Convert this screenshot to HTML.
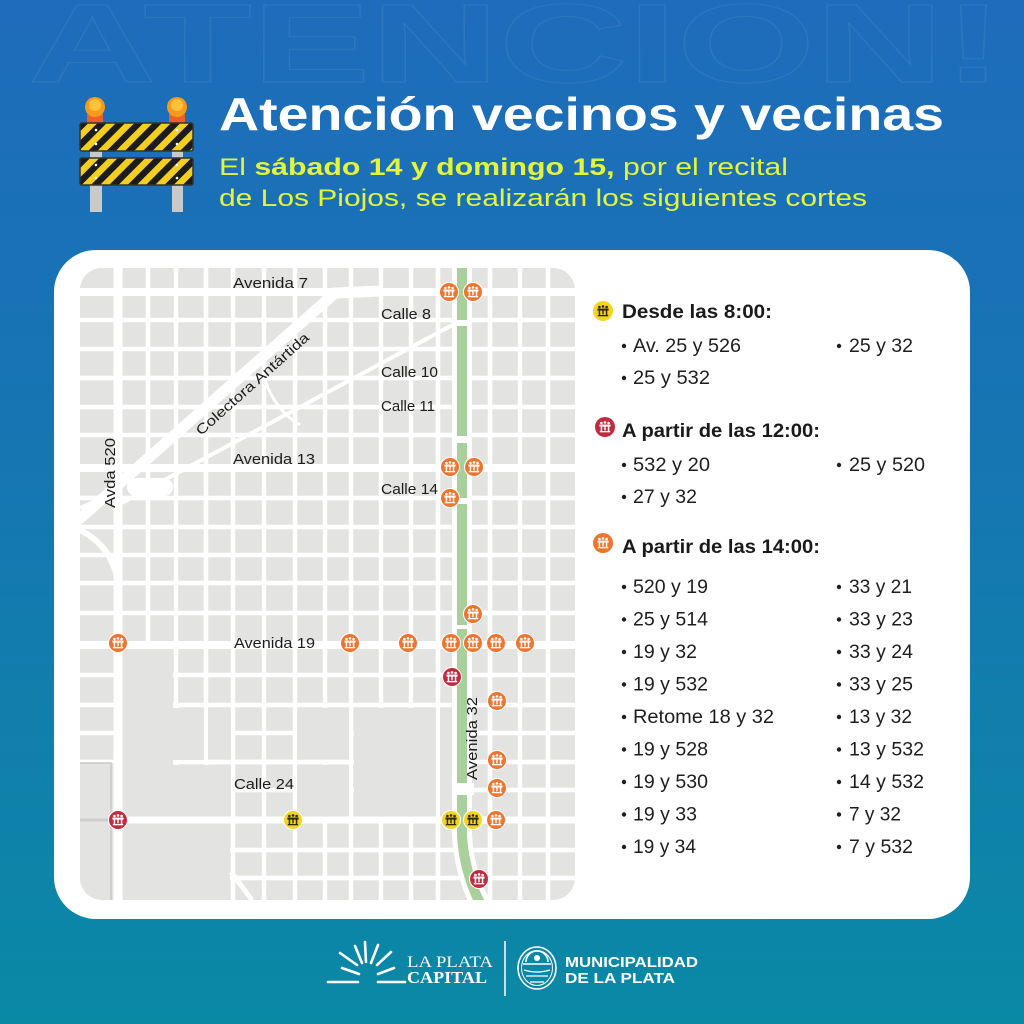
<!DOCTYPE html>
<html><head><meta charset="utf-8"><style>html,body{margin:0;padding:0;background:#1a74b4}svg{display:block}</style></head><body>
<svg width="1024" height="1024" viewBox="0 0 1024 1024" xmlns="http://www.w3.org/2000/svg" font-family="'Liberation Sans', sans-serif">
<defs>
<linearGradient id="bg" x1="0" y1="0" x2="0" y2="1">
<stop offset="0" stop-color="#1e6cbb"/><stop offset="0.45" stop-color="#1676b2"/><stop offset="1" stop-color="#0a89a5"/>
</linearGradient>
<pattern id="stripe" patternUnits="userSpaceOnUse" width="13" height="13" patternTransform="rotate(45)">
<rect width="13" height="13" fill="#f3d020"/><rect width="6.5" height="13" fill="#1c1c1c"/>
</pattern>
<clipPath id="mapclip"><rect x="80" y="268" width="495" height="632" rx="22"/></clipPath>
<g id="ico">
<circle cx="-3.6" cy="-4" r="1.3"/><circle cx="0" cy="-4.6" r="1.3"/><circle cx="3.6" cy="-4" r="1.3"/>
<rect x="-5.6" y="-2.4" width="11.2" height="2"/>
<rect x="-4.3" y="-0.6" width="1.5" height="5"/><rect x="-0.7" y="-0.6" width="1.4" height="4"/><rect x="2.8" y="-0.6" width="1.5" height="5"/>
<rect x="-5.2" y="4" width="10.4" height="1.3"/>
</g>
</defs>
<rect width="1024" height="1024" fill="url(#bg)"/>
<text x="28" y="82" font-size="112" font-weight="bold" fill="none" stroke="rgba(255,255,255,0.07)" stroke-width="1" textLength="975" lengthAdjust="spacingAndGlyphs">ATENCION!</text>

<!-- barrier -->
<g>
<rect x="90" y="148" width="12" height="64" fill="#c9c9c9"/>
<rect x="172" y="148" width="11" height="64" fill="#c9c9c9"/>
<rect x="87" y="114" width="16" height="10" fill="#ef5f2a"/>
<rect x="169" y="114" width="16" height="10" fill="#ef5f2a"/>
<circle cx="95" cy="107" r="10" fill="#f59a1c"/><circle cx="95" cy="105" r="6" fill="#ffc23a"/>
<circle cx="177" cy="107" r="10" fill="#f59a1c"/><circle cx="177" cy="105" r="6" fill="#ffc23a"/>
<rect x="80" y="123" width="113" height="28" rx="2" fill="url(#stripe)" stroke="#333" stroke-width="1.5"/>
<rect x="80" y="158" width="113" height="27" rx="2" fill="url(#stripe)" stroke="#333" stroke-width="1.5"/>
<g fill="#fff"><circle cx="96" cy="130" r="1.3"/><circle cx="96" cy="144" r="1.3"/><circle cx="177" cy="130" r="1.3"/><circle cx="177" cy="144" r="1.3"/><circle cx="96" cy="165" r="1.3"/><circle cx="96" cy="178" r="1.3"/><circle cx="177" cy="165" r="1.3"/><circle cx="177" cy="178" r="1.3"/></g>
</g>

<text x="219" y="130" font-size="46" font-weight="bold" fill="#fff" textLength="725" lengthAdjust="spacingAndGlyphs">Atención vecinos y vecinas</text>
<text x="219" y="175" font-size="24" fill="#e3f43a" textLength="569" lengthAdjust="spacingAndGlyphs">El <tspan font-weight="bold">sábado 14 y domingo 15,</tspan> por el recital</text>
<text x="219" y="206" font-size="24" fill="#e3f43a" textLength="648" lengthAdjust="spacingAndGlyphs">de Los Piojos, se realizarán los siguientes cortes</text>

<!-- card -->
<rect x="54" y="250" width="916" height="669" rx="42" fill="#fff"/>

<!-- map -->
<g clip-path="url(#mapclip)">
<rect x="80" y="268" width="495" height="632" fill="#e3e3e1"/>
<g stroke="#fff" stroke-width="4.5">
<line x1="80" y1="320" x2="575" y2="320"/><line x1="80" y1="349" x2="575" y2="349"/><line x1="80" y1="378" x2="575" y2="378"/><line x1="80" y1="407" x2="575" y2="407"/><line x1="80" y1="435" x2="575" y2="435"/><line x1="80" y1="498" x2="575" y2="498"/><line x1="80" y1="527" x2="575" y2="527"/><line x1="80" y1="555" x2="575" y2="555"/><line x1="80" y1="583" x2="575" y2="583"/><line x1="80" y1="613" x2="575" y2="613"/><line x1="80" y1="675" x2="575" y2="675"/><line x1="80" y1="705" x2="575" y2="705"/><line x1="80" y1="733" x2="575" y2="733"/><line x1="80" y1="762" x2="575" y2="762"/><line x1="80" y1="790" x2="575" y2="790"/><line x1="80" y1="850" x2="575" y2="850"/><line x1="80" y1="878" x2="575" y2="878"/>
<line x1="148" y1="268" x2="148" y2="900"/><line x1="176" y1="268" x2="176" y2="900"/><line x1="206" y1="268" x2="206" y2="900"/><line x1="233" y1="268" x2="233" y2="900"/><line x1="264" y1="268" x2="264" y2="900"/><line x1="295" y1="268" x2="295" y2="900"/><line x1="325" y1="268" x2="325" y2="900"/><line x1="351" y1="268" x2="351" y2="900"/><line x1="381" y1="268" x2="381" y2="900"/><line x1="411" y1="268" x2="411" y2="900"/><line x1="438" y1="268" x2="438" y2="900"/><line x1="490" y1="268" x2="490" y2="900"/><line x1="520" y1="268" x2="520" y2="900"/><line x1="548" y1="268" x2="548" y2="900"/>
</g>
<g fill="#e3e3e1">
<rect x="121" y="649" width="52" height="168"/>
<rect x="121" y="823" width="109" height="80"/>
<rect x="173" y="708" width="31" height="52"/>
<rect x="208" y="708" width="23" height="52"/>
<rect x="173" y="765" width="58" height="52"/>
<rect x="297" y="708" width="52" height="52"/>
<rect x="297" y="765" width="52" height="52"/>
<rect x="354" y="708" width="82" height="109"/>
<rect x="440" y="708" width="12" height="109"/>
<rect x="80" y="763" width="34" height="140"/>
<rect x="80" y="268" width="36" height="20"/>
</g>
<line x1="206" y1="762" x2="351" y2="762" stroke="#fff" stroke-width="4.5"/>
<path d="M80 763 H111 V900" fill="none" stroke="#c8c8c8" stroke-width="1.5"/>
<line x1="80" y1="820" x2="114" y2="820" stroke="#cfcfcf" stroke-width="3"/>
<!-- avenues -->
<g stroke="#fff" fill="none">
<line x1="80" y1="292" x2="575" y2="292" stroke-width="8"/>
<line x1="80" y1="468" x2="575" y2="468" stroke-width="8"/>
<line x1="80" y1="645" x2="575" y2="645" stroke-width="8"/>
<line x1="114" y1="820" x2="575" y2="820" stroke-width="7"/>
<line x1="118" y1="268" x2="118" y2="900" stroke-width="9"/>
<path d="M76 522 L335 293 L380 291" stroke-width="11"/>
<path d="M118 505 L458 322" stroke-width="4"/>
<path d="M80 530 C100 540 112 555 118 580" stroke-width="6"/>
<path d="M80 508 L118 492" stroke-width="4"/>
<path d="M265 380 Q275 410 300 425" stroke-width="3"/>
<path d="M231 872 L252 900" stroke-width="5"/>
<path d="M462 268 L462 835 Q464 872 481 905" stroke-width="20"/>
</g>
<rect x="127" y="478" width="46" height="18" rx="9" fill="#fff"/>
<path d="M462 268 L462 835 Q464 872 481 905" fill="none" stroke="#a9cf9c" stroke-width="10"/>
<g fill="#fff">
<rect x="452" y="320" width="20" height="6"/><rect x="452" y="436" width="20" height="7"/><rect x="452" y="498" width="20" height="6"/><rect x="452" y="783" width="22" height="12"/><rect x="452" y="625" width="20" height="4"/>
</g>
<!-- labels -->
<g font-size="15" fill="#1c1c1c" font-weight="500">
<text x="233" y="288" textLength="75" lengthAdjust="spacingAndGlyphs">Avenida 7</text>
<text x="381" y="319" textLength="50" lengthAdjust="spacingAndGlyphs">Calle 8</text>
<text x="381" y="377" textLength="57" lengthAdjust="spacingAndGlyphs">Calle 10</text>
<text x="381" y="411" textLength="54" lengthAdjust="spacingAndGlyphs">Calle 11</text>
<text x="233" y="464" textLength="82" lengthAdjust="spacingAndGlyphs">Avenida 13</text>
<text x="381" y="494" textLength="57" lengthAdjust="spacingAndGlyphs">Calle 14</text>
<text x="234" y="648" textLength="81" lengthAdjust="spacingAndGlyphs">Avenida 19</text>
<text x="234" y="789" textLength="60" lengthAdjust="spacingAndGlyphs">Calle 24</text>
<text transform="translate(115,508) rotate(-90)" textLength="70" lengthAdjust="spacingAndGlyphs">Avda 520</text>
<text transform="translate(477,780) rotate(-90)" textLength="83" lengthAdjust="spacingAndGlyphs">Avenida 32</text>
<text transform="translate(201,436) rotate(-41.7)" font-size="14" textLength="146" lengthAdjust="spacingAndGlyphs">Colectora Antártida</text>
</g>
<!-- markers -->
<g fill="#ee7430" stroke="#fff" stroke-width="1">
<circle cx="449" cy="292" r="9.5"/><circle cx="473" cy="292" r="9.5"/>
<circle cx="450" cy="467" r="9.5"/><circle cx="474" cy="467" r="9.5"/><circle cx="450" cy="498" r="9.5"/>
<circle cx="473" cy="614" r="9.5"/>
<circle cx="118" cy="643" r="9.5"/><circle cx="350" cy="643" r="9.5"/><circle cx="408" cy="643" r="9.5"/><circle cx="451" cy="643" r="9.5"/><circle cx="473" cy="643" r="9.5"/><circle cx="496" cy="643" r="9.5"/><circle cx="525" cy="643" r="9.5"/>
<circle cx="497" cy="701" r="9.5"/><circle cx="497" cy="760" r="9.5"/><circle cx="497" cy="788" r="9.5"/><circle cx="496" cy="820" r="9.5"/>
</g>
<g fill="#c32a3e" stroke="#fff" stroke-width="1">
<circle cx="452" cy="677" r="9.5"/><circle cx="118" cy="820" r="9.5"/><circle cx="479" cy="879" r="9.5"/>
</g>
<g fill="#f4d51e" stroke="#fff" stroke-width="1">
<circle cx="293" cy="820" r="9.5"/><circle cx="451" cy="820" r="9.5"/><circle cx="473" cy="820" r="9.5"/>
</g>
<g fill="#fff">
<use href="#ico" transform="translate(449,292)"/><use href="#ico" transform="translate(473,292)"/>
<use href="#ico" transform="translate(450,467)"/><use href="#ico" transform="translate(474,467)"/><use href="#ico" transform="translate(450,498)"/>
<use href="#ico" transform="translate(473,614)"/>
<use href="#ico" transform="translate(118,643)"/><use href="#ico" transform="translate(350,643)"/><use href="#ico" transform="translate(408,643)"/><use href="#ico" transform="translate(451,643)"/><use href="#ico" transform="translate(473,643)"/><use href="#ico" transform="translate(496,643)"/><use href="#ico" transform="translate(525,643)"/>
<use href="#ico" transform="translate(497,701)"/><use href="#ico" transform="translate(497,760)"/><use href="#ico" transform="translate(497,788)"/><use href="#ico" transform="translate(496,820)"/>
<use href="#ico" transform="translate(452,677)"/><use href="#ico" transform="translate(118,820)"/><use href="#ico" transform="translate(479,879)"/>
</g>
<g fill="#2a2a10">
<use href="#ico" transform="translate(293,820)"/><use href="#ico" transform="translate(451,820)"/><use href="#ico" transform="translate(473,820)"/>
</g>
</g>

<!-- legend -->
<circle cx="603" cy="311" r="10" fill="#f4d51e"/><g fill="#2a2a10"><use href="#ico" transform="translate(603,311)"/></g>
<circle cx="605" cy="427" r="10" fill="#c32a3e"/><g fill="#fff"><use href="#ico" transform="translate(605,427)"/></g>
<circle cx="603" cy="543" r="10" fill="#ee7430"/><g fill="#fff"><use href="#ico" transform="translate(603,543)"/></g>

<g font-size="19" font-weight="bold" fill="#1a1a1a">
<text x="622" y="318" textLength="150" lengthAdjust="spacingAndGlyphs">Desde las 8:00:</text>
<text x="622" y="437" textLength="198" lengthAdjust="spacingAndGlyphs">A partir de las 12:00:</text>
<text x="622" y="553" textLength="198" lengthAdjust="spacingAndGlyphs">A partir de las 14:00:</text>
</g>
<g fill="#1e1e1e">
<circle cx="624" cy="346" r="2.2"/><circle cx="839" cy="346" r="2.2"/><circle cx="624" cy="378" r="2.2"/>
<circle cx="624" cy="465" r="2.2"/><circle cx="839" cy="465" r="2.2"/><circle cx="624" cy="497" r="2.2"/>
<circle cx="624" cy="587" r="2.2"/><circle cx="624" cy="619.5" r="2.2"/><circle cx="624" cy="652" r="2.2"/><circle cx="624" cy="684.5" r="2.2"/><circle cx="624" cy="717" r="2.2"/><circle cx="624" cy="749.5" r="2.2"/><circle cx="624" cy="782" r="2.2"/><circle cx="624" cy="814.5" r="2.2"/><circle cx="624" cy="847" r="2.2"/>
<circle cx="839" cy="587" r="2.2"/><circle cx="839" cy="619.5" r="2.2"/><circle cx="839" cy="652" r="2.2"/><circle cx="839" cy="684.5" r="2.2"/><circle cx="839" cy="717" r="2.2"/><circle cx="839" cy="749.5" r="2.2"/><circle cx="839" cy="782" r="2.2"/><circle cx="839" cy="814.5" r="2.2"/><circle cx="839" cy="847" r="2.2"/>
</g>
<g font-size="19" fill="#1e1e1e">
<text x="633" y="352" textLength="108" lengthAdjust="spacingAndGlyphs">Av. 25 y 526</text>
<text x="849" y="352" textLength="64" lengthAdjust="spacingAndGlyphs">25 y 32</text>
<text x="633" y="384" textLength="77" lengthAdjust="spacingAndGlyphs">25 y 532</text>
<text x="633" y="471" textLength="77" lengthAdjust="spacingAndGlyphs">532 y 20</text>
<text x="849" y="471" textLength="76" lengthAdjust="spacingAndGlyphs">25 y 520</text>
<text x="633" y="503" textLength="64" lengthAdjust="spacingAndGlyphs">27 y 32</text>
<text x="633" y="593" textLength="75" lengthAdjust="spacingAndGlyphs">520 y 19</text>
<text x="633" y="625.5" textLength="75" lengthAdjust="spacingAndGlyphs">25 y 514</text>
<text x="633" y="658" textLength="64" lengthAdjust="spacingAndGlyphs">19 y 32</text>
<text x="633" y="690.5" textLength="75" lengthAdjust="spacingAndGlyphs">19 y 532</text>
<text x="633" y="723" textLength="141" lengthAdjust="spacingAndGlyphs">Retome 18 y 32</text>
<text x="633" y="755.5" textLength="75" lengthAdjust="spacingAndGlyphs">19 y 528</text>
<text x="633" y="788" textLength="75" lengthAdjust="spacingAndGlyphs">19 y 530</text>
<text x="633" y="820.5" textLength="64" lengthAdjust="spacingAndGlyphs">19 y 33</text>
<text x="633" y="853" textLength="63" lengthAdjust="spacingAndGlyphs">19 y 34</text>
<text x="849" y="593" textLength="63" lengthAdjust="spacingAndGlyphs">33 y 21</text>
<text x="849" y="625.5" textLength="64" lengthAdjust="spacingAndGlyphs">33 y 23</text>
<text x="849" y="658" textLength="64" lengthAdjust="spacingAndGlyphs">33 y 24</text>
<text x="849" y="690.5" textLength="64" lengthAdjust="spacingAndGlyphs">33 y 25</text>
<text x="849" y="723" textLength="63" lengthAdjust="spacingAndGlyphs">13 y 32</text>
<text x="849" y="755.5" textLength="75" lengthAdjust="spacingAndGlyphs">13 y 532</text>
<text x="849" y="788" textLength="75" lengthAdjust="spacingAndGlyphs">14 y 532</text>
<text x="849" y="820.5" textLength="52" lengthAdjust="spacingAndGlyphs">7 y 32</text>
<text x="849" y="853" textLength="64" lengthAdjust="spacingAndGlyphs">7 y 532</text>
</g>

<!-- footer -->
<g stroke="#fff" stroke-width="2.6" stroke-linecap="round" fill="none">
<line x1="328" y1="982" x2="358" y2="982"/><line x1="378" y1="982" x2="405" y2="982"/>
<line x1="340" y1="953" x2="357" y2="965"/><line x1="342" y1="968" x2="359" y2="974"/>
<line x1="355" y1="946" x2="362" y2="963"/><line x1="365" y1="942" x2="366" y2="962"/>
<line x1="378" y1="945" x2="371" y2="963"/><line x1="391" y1="952" x2="377" y2="965"/>
<line x1="394" y1="968" x2="378" y2="974"/>
</g>
<text x="407" y="967" font-family="'Liberation Serif', serif" font-size="16" fill="#fff" textLength="86" lengthAdjust="spacingAndGlyphs">LA PLATA</text>
<text x="407" y="983" font-family="'Liberation Serif', serif" font-size="17" font-weight="bold" fill="#fff" textLength="80" lengthAdjust="spacingAndGlyphs">CAPITAL</text>
<line x1="505" y1="941" x2="505" y2="996" stroke="#fff" stroke-width="1.5"/>
<g stroke="#fff" fill="none" stroke-width="1.6">
<ellipse cx="537" cy="968" rx="19" ry="21"/>
<ellipse cx="537" cy="968" rx="15.5" ry="17.5" stroke-width="1"/>
<path d="M526 962 A11 11 0 0 1 548 962" />
<line x1="523" y1="964" x2="551" y2="964"/>
<path d="M524 970 Q537 974 550 970" stroke-width="1.2"/>
<path d="M526 976 L548 976 M530 982 L544 982" stroke-width="1.2"/>
</g>
<g fill="#fff"><circle cx="537" cy="958" r="3"/></g>
<text x="565" y="967" font-size="15" font-weight="bold" fill="#fff" textLength="133" lengthAdjust="spacingAndGlyphs">MUNICIPALIDAD</text>
<text x="565" y="983" font-size="15" font-weight="bold" fill="#fff" textLength="110" lengthAdjust="spacingAndGlyphs">DE LA PLATA</text>
</svg>
</body></html>
